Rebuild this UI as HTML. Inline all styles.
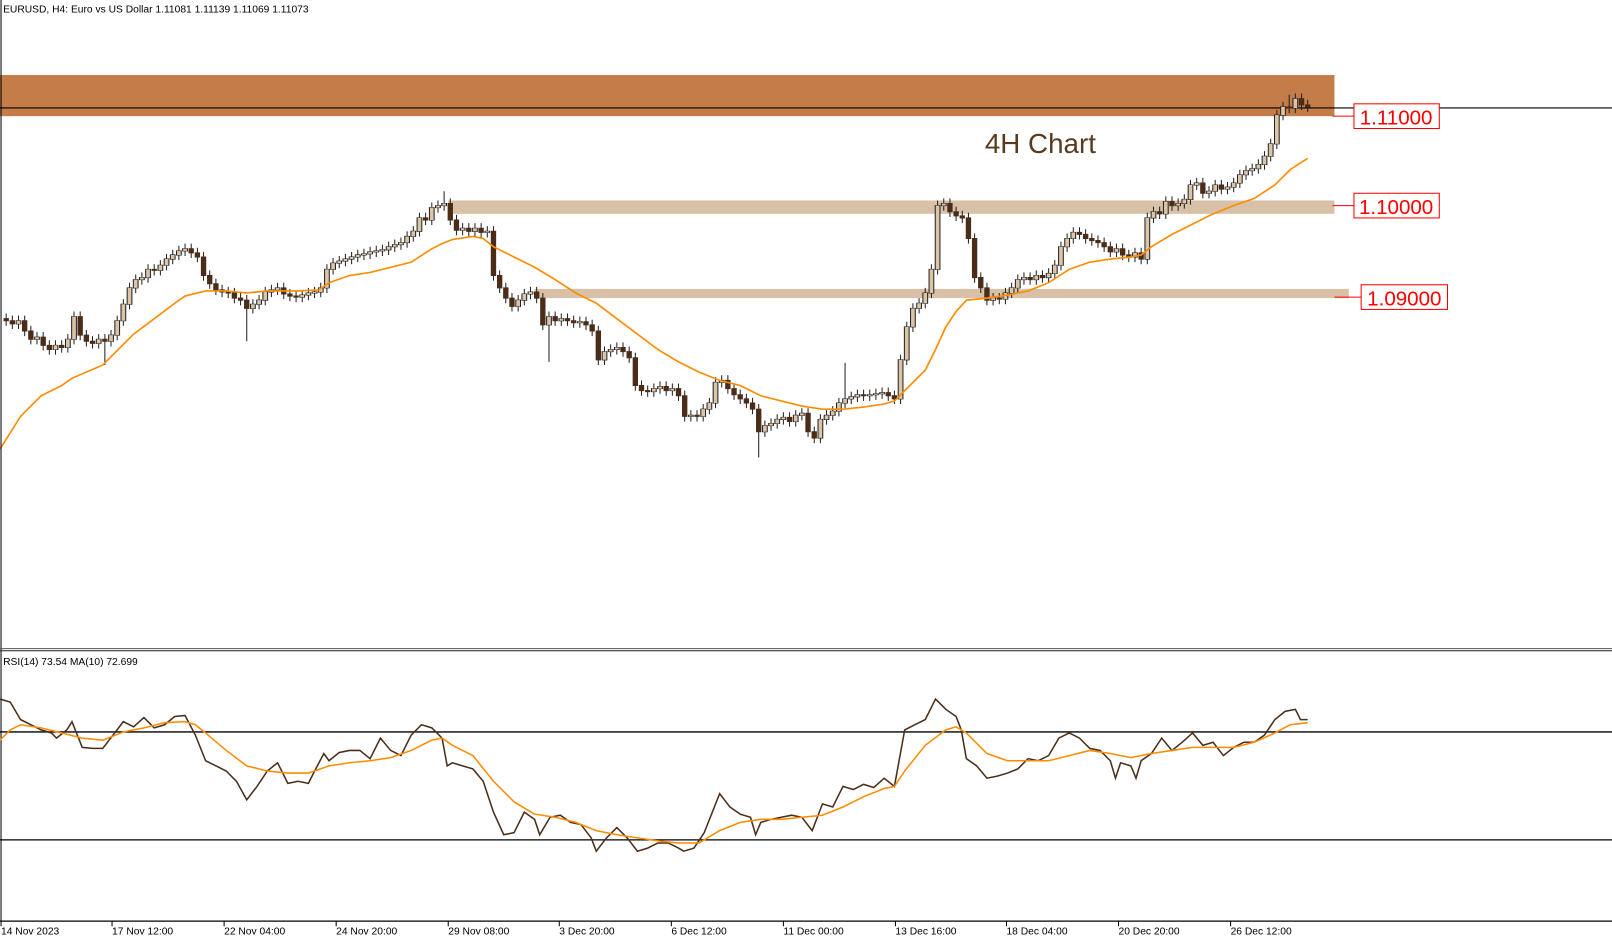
<!DOCTYPE html>
<html><head><meta charset="utf-8"><style>
html,body{margin:0;padding:0;background:#fff;overflow:hidden}
svg{display:block}
text{font-family:"Liberation Sans","DejaVu Sans",sans-serif}
</style></head><body>
<svg width="1612" height="936" viewBox="0 0 1568 910.5" preserveAspectRatio="none" xmlns="http://www.w3.org/2000/svg">
<rect x="0" y="0" width="1568" height="911" fill="#fff"/>
<rect x="0" y="73" width="1298" height="40" fill="#c47c48"/>
<rect x="436" y="195" width="862" height="13" fill="#d8c1a6"/>
<rect x="520" y="281" width="792" height="9" fill="#d8c1a6"/>
<line x1="0" y1="105" x2="1568" y2="105" stroke="#000" stroke-width="1"/>
<path fill="none" stroke="#222" stroke-width="1" d="M6 305V317M12 307V320M18 307V320M24 307V327M30 317V335M36 323V335M42 323V341M48 331V345M54 331V345M60 331V343M66 325V343M72 303V335M78 303V331M84 321V337M90 327V339M96 325V339M102 325V355M108 321V337M114 307V331M120 291V317M126 275V301M132 267V285M138 265V277M144 257V275M150 257V268M156 253V268M162 247V263M168 243V257M174 239V253M180 237V249M186 237V251M192 241V255M198 245V273M204 263V281M210 271V287M216 277V289M222 279V290M228 280V295M234 285V297M240 287V332M246 291V305M252 287V301M258 279V297M264 277V289M270 275V287M276 275V291M282 281V293M288 283V294M294 282V294M300 280V292M306 279V290M312 275V289M318 257V285M324 251V267M330 249V261M336 247V259M342 245V257M348 243V255M354 242V253M360 240V252M366 239V250M372 238V249M378 235V248M384 233V245M390 231V243M396 225V241M402 220V235M408 207V230M414 207V219M420 197V219M426 195V207M432 186V205M438 193V219M444 209V229M450 217V229M456 217V230M462 217V230M468 217V231M474 220V231M480 220V273M486 263V285M492 275V295M498 285V303M504 287V303M510 281V297M516 279V291M522 279V295M528 285V321M534 303V352M540 303V317M546 305V317M552 305V317M558 307V319M564 308V319M570 308V321M576 311V327M582 317V355M588 337V355M594 335V347M600 333V345M606 333V347M612 337V353M618 343V380M624 370V385M630 375V386M636 373V386M642 371V383M648 371V385M654 373V385M660 373V390M666 380V410M672 399V410M678 399V410M684 393V410M690 387V403M696 367V397M702 365V377M708 365V383M714 373V389M720 379V393M726 383V397M732 387V403M738 393V445M744 409V425M750 407V419M756 403V417M762 401V413M768 401V415M774 399V415M780 397V409M786 397V425M792 415V431M798 403V431M804 399V413M810 395V409M816 387V405M822 353V397M828 381V393M834 379V391M840 379V390M846 379V390M852 378V389M858 377V388M864 377V390M870 380V393M876 345V393M882 313V355M888 295V323M894 290V305M900 280V300M906 257V290M912 195V267M918 193V205M924 193V211M930 201V215M936 205V217M942 207V237M948 227V275M954 265V285M960 275V297M966 285V297M972 285V296M978 280V296M984 275V290M990 267V285M996 265V277M1002 265V277M1008 263V277M1014 263V275M1020 261V275M1026 253V271M1032 235V263M1038 227V245M1044 221V237M1050 221V233M1056 223V237M1062 227V239M1068 229V241M1074 231V245M1080 235V250M1086 237V250M1092 237V253M1098 243V255M1104 241V255M1110 241V257M1116 207V257M1122 201V217M1128 201V213M1134 191V213M1140 191V205M1146 193V205M1152 189V203M1158 175V199M1164 173V185M1170 173V193M1176 181V193M1182 175V191M1188 175V189M1194 177V189M1200 173V187M1206 165V183M1212 161V175M1218 159V171M1224 155V169M1230 147V165M1236 135V157M1242 107V145M1248 99V117M1254 92V110M1260 91V110M1266 91V107M1272 97V109"/>
<path id="lb" fill="none" stroke="#222" stroke-width="5.6" d="M18 311.5v4M36 327.5v3M54 335.5v5M66 329.5v9M72 307.5v23M96 329.5v5M108 325.5v7M114 311.5v15M120 295.5v17M126 279.5v17M132 271.5v9M138 269.5v3M144 261.5v9M156 257.5v6M162 251.5v7M168 247.5v5M174 243.5v5M180 241.5v3M246 295.5v5M252 291.5v5M258 283.5v9M264 281.5v3M270 279.5v3M294 286.5v3M300 284.5v3M306 283.5v2M312 279.5v5M318 261.5v19M324 255.5v7M330 253.5v3M336 251.5v3M342 249.5v3M348 247.5v3M354 246.5v2M360 244.5v3M366 243.5v2M372 242.5v2M378 239.5v4M384 237.5v3M390 235.5v3M396 229.5v7M402 224.5v6M408 211.5v14M420 201.5v13M426 199.5v3M432 197.5v3M450 221.5v3M462 221.5v4M474 224.5v2M504 291.5v7M510 285.5v7M516 283.5v3M534 307.5v9M546 309.5v3M564 312.5v2M588 341.5v9M594 339.5v3M600 337.5v3M636 377.5v4M642 375.5v3M654 377.5v3M672 403.5v2M684 397.5v8M690 391.5v7M696 371.5v21M702 369.5v3M744 413.5v7M750 411.5v3M756 407.5v5M762 405.5v3M774 403.5v7M780 401.5v3M798 407.5v19M804 403.5v5M810 399.5v5M816 391.5v9M822 387.5v5M828 385.5v3M834 383.5v3M846 383.5v2M852 382.5v2M858 381.5v2M876 349.5v39M882 317.5v33M888 299.5v19M894 294.5v6M900 284.5v11M906 261.5v24M912 199.5v63M918 197.5v3M966 289.5v3M978 284.5v7M984 279.5v6M990 271.5v9M996 269.5v3M1008 267.5v5M1020 265.5v5M1026 257.5v9M1032 239.5v19M1038 231.5v9M1044 225.5v7M1086 241.5v4M1104 245.5v5M1116 211.5v41M1122 205.5v7M1134 195.5v13M1146 197.5v3M1152 193.5v5M1158 179.5v15M1164 177.5v3M1176 185.5v3M1182 179.5v7M1194 181.5v3M1200 177.5v5M1206 169.5v9M1212 165.5v5M1218 163.5v3M1224 159.5v5M1230 151.5v9M1236 139.5v13M1242 111.5v29M1248 103.5v9M1260 95.5v10"/>
<path fill="none" stroke="#dcc4a6" stroke-width="3.6" d="M18 312v3M36 328v2M54 336v4M66 330v8M72 308v22M96 330v4M108 326v6M114 312v14M120 296v16M126 280v16M132 272v8M138 270v2M144 262v8M156 258v5M162 252v6M168 248v4M174 244v4M180 242v2M246 296v4M252 292v4M258 284v8M264 282v2M270 280v2M294 287v2M300 285v2M306 284v1M312 280v4M318 262v18M324 256v6M330 254v2M336 252v2M342 250v2M348 248v2M354 247v1M360 245v2M366 244v1M372 243v1M378 240v3M384 238v2M390 236v2M396 230v6M402 225v5M408 212v13M420 202v12M426 200v2M432 198v2M450 222v2M462 222v3M474 225v1M504 292v6M510 286v6M516 284v2M534 308v8M546 310v2M564 313v1M588 342v8M594 340v2M600 338v2M636 378v3M642 376v2M654 378v2M672 404v1M684 398v7M690 392v6M696 372v20M702 370v2M744 414v6M750 412v2M756 408v4M762 406v2M774 404v6M780 402v2M798 408v18M804 404v4M810 400v4M816 392v8M822 388v4M828 386v2M834 384v2M846 384v1M852 383v1M858 382v1M876 350v38M882 318v32M888 300v18M894 295v5M900 285v10M906 262v23M912 200v62M918 198v2M966 290v2M978 285v6M984 280v5M990 272v8M996 270v2M1008 268v4M1020 266v4M1026 258v8M1032 240v18M1038 232v8M1044 226v6M1086 242v3M1104 246v4M1116 212v40M1122 206v6M1134 196v12M1146 198v2M1152 194v4M1158 180v14M1164 178v2M1176 186v2M1182 180v6M1194 182v2M1200 178v4M1206 170v8M1212 166v4M1218 164v2M1224 160v4M1230 152v8M1236 140v12M1242 112v28M1248 104v8M1260 96v9"/>
<path fill="none" stroke="#4a2c18" stroke-width="5.2" d="M6 309.5v3M12 311.5v4M24 311.5v11M30 321.5v9M42 327.5v9M48 335.5v5M60 335.5v3M78 307.5v19M84 325.5v7M90 331.5v3M102 329.5v3M150 261.5v2M186 241.5v5M192 245.5v5M198 249.5v19M204 267.5v9M210 275.5v7M216 281.5v3M222 283.5v2M228 284.5v6M234 289.5v3M240 291.5v9M276 279.5v7M282 285.5v3M288 287.5v2M414 211.5v3M438 197.5v17M444 213.5v11M456 221.5v4M468 221.5v5M480 224.5v44M486 267.5v13M492 279.5v11M498 289.5v9M522 283.5v7M528 289.5v27M540 307.5v5M552 309.5v3M558 311.5v3M570 312.5v4M576 315.5v7M582 321.5v29M606 337.5v5M612 341.5v7M618 347.5v28M624 374.5v6M630 379.5v2M648 375.5v5M660 377.5v8M666 384.5v21M678 403.5v2M708 369.5v9M714 377.5v7M720 383.5v5M726 387.5v5M732 391.5v7M738 397.5v23M768 405.5v5M786 401.5v19M792 419.5v7M840 383.5v2M864 381.5v4M870 384.5v4M924 197.5v9M930 205.5v5M936 209.5v3M942 211.5v21M948 231.5v39M954 269.5v11M960 279.5v13M972 289.5v2M1002 269.5v3M1014 267.5v3M1050 225.5v3M1056 227.5v5M1062 231.5v3M1068 233.5v3M1074 235.5v5M1080 239.5v6M1092 241.5v7M1098 247.5v3M1110 245.5v7M1128 205.5v3M1140 195.5v5M1170 177.5v11M1188 179.5v5M1254 103.5v2M1266 95.5v7M1272 101.5v3"/>
<polyline fill="none" stroke="#ff8c00" stroke-width="1.6" points="0,437,20,405,40,385,60,375,70,368,100,355,110,345,130,325,150,310,170,295,180,288,200,283,220,283,240,285,260,283,290,283,310,282,320,275,340,268,360,265,380,260,400,255,420,242,430,237,440,233,460,230,470,232,480,240,500,250,520,260,540,272,560,285,580,295,600,310,620,325,640,340,660,352,680,362,700,370,720,375,740,385,760,390,780,395,800,398,820,398,840,396,860,393,870,390,880,380,900,360,910,340,920,318,930,303,940,292,960,290,980,287,1000,283,1020,275,1040,262,1060,255,1080,252,1100,250,1110,248,1120,240,1140,228,1160,218,1180,208,1200,200,1220,193,1240,180,1255,165,1272,154"/>
<line x1="1296" y1="113" x2="1317" y2="113" stroke="#f00"/>
<rect x="1317" y="101" width="83" height="24" fill="#fff" stroke="#f00"/>
<text x="1358" y="121" font-size="20" fill="#f00" text-anchor="middle">1.11000</text>
<line x1="1296" y1="200" x2="1317" y2="200" stroke="#f00"/>
<rect x="1317" y="188" width="83" height="24" fill="#fff" stroke="#f00"/>
<text x="1358" y="208" font-size="20" fill="#f00" text-anchor="middle">1.10000</text>
<line x1="1298" y1="289" x2="1324" y2="289" stroke="#f00"/>
<rect x="1324" y="277" width="84" height="24" fill="#fff" stroke="#f00"/>
<text x="1366" y="297" font-size="20" fill="#f00" text-anchor="middle">1.09000</text>
<text x="958" y="149" font-size="27" fill="#5a3a1e">4H Chart</text>
<text x="3" y="12" font-size="10" fill="#000">EURUSD, H4:  Euro vs US Dollar  1.11081 1.11139 1.11069 1.11073</text>
<line x1="1" y1="0" x2="1" y2="896" stroke="#000"/>
<line x1="0" y1="631" x2="1568" y2="631" stroke="#555" stroke-width="1"/>
<line x1="0" y1="633" x2="1568" y2="633" stroke="#222" stroke-width="1"/>
<text x="3" y="647" font-size="10" fill="#000">RSI(14) 73.54 MA(10) 72.699</text>
<line x1="0" y1="712" x2="1568" y2="712" stroke="#000" stroke-width="1.3"/>
<line x1="0" y1="817" x2="1568" y2="817" stroke="#000" stroke-width="1.3"/>
<polyline fill="none" stroke="#4a2e1a" stroke-width="1.5" points="0,680,10,683,20,700,30,705,40,710,50,713,55,718,65,710,70,702,80,727,90,728,100,728,110,715,120,702,130,707,140,698,150,708,160,705,170,697,180,696,190,715,200,740,210,745,220,750,230,760,240,778,250,765,260,750,270,742,280,762,290,760,300,762,305,752,315,733,320,740,330,732,340,730,350,730,360,738,370,718,380,730,390,735,400,715,410,705,420,708,430,718,435,745,440,742,450,745,460,748,470,760,480,790,490,812,500,810,510,790,520,797,525,812,535,795,545,793,555,800,565,802,575,815,580,828,590,815,600,805,610,815,620,828,630,825,640,820,650,820,660,825,665,828,675,825,685,810,700,772,710,785,720,792,730,795,735,812,740,800,750,797,760,795,770,793,780,795,790,808,800,782,810,785,820,765,830,768,840,763,850,766,860,757,870,765,880,710,890,705,900,700,910,680,920,690,930,697,935,710,940,738,950,745,960,757,970,755,980,752,990,748,1000,738,1010,740,1020,735,1030,718,1040,713,1050,718,1060,728,1070,730,1080,740,1085,757,1090,742,1100,745,1105,757,1110,740,1120,733,1130,718,1140,730,1150,722,1160,713,1170,725,1180,722,1190,735,1200,727,1210,722,1220,722,1230,715,1240,700,1250,692,1260,690,1265,700,1272,700"/>
<polyline fill="none" stroke="#ff8c00" stroke-width="1.5" points="0,720,10,710,20,705,40,708,60,713,80,718,100,720,120,712,140,708,160,703,180,702,190,705,200,713,220,730,240,745,260,750,280,752,300,752,320,745,340,742,360,740,380,737,400,730,420,720,430,718,440,725,460,735,480,760,500,780,520,792,540,795,560,800,580,808,600,812,620,815,640,818,660,820,680,820,700,808,720,800,740,797,760,797,780,795,800,793,820,785,840,775,860,767,870,765,880,750,900,725,920,710,930,707,940,713,960,733,980,740,1000,740,1020,740,1040,735,1060,730,1080,733,1100,737,1120,733,1140,730,1160,727,1180,727,1200,727,1220,722,1240,713,1255,705,1272,703"/>
<line x1="0" y1="896" x2="1568" y2="896" stroke="#000" stroke-width="1.2"/>
<g stroke="#000">
<line x1="1" y1="896" x2="1" y2="901"/><line x1="109" y1="896" x2="109" y2="901"/><line x1="218" y1="896" x2="218" y2="901"/><line x1="327" y1="896" x2="327" y2="901"/><line x1="436" y1="896" x2="436" y2="901"/><line x1="544" y1="896" x2="544" y2="901"/><line x1="653" y1="896" x2="653" y2="901"/><line x1="762" y1="896" x2="762" y2="901"/><line x1="871" y1="896" x2="871" y2="901"/><line x1="979" y1="896" x2="979" y2="901"/><line x1="1088" y1="896" x2="1088" y2="901"/><line x1="1197" y1="896" x2="1197" y2="901"/>
</g>
<g font-size="10" fill="#000">
<text x="1" y="909">14 Nov 2023</text>
<text x="109" y="909">17 Nov 12:00</text>
<text x="218" y="909">22 Nov 04:00</text>
<text x="327" y="909">24 Nov 20:00</text>
<text x="436" y="909">29 Nov 08:00</text>
<text x="544" y="909">3 Dec 20:00</text>
<text x="653" y="909">6 Dec 12:00</text>
<text x="762" y="909">11 Dec 00:00</text>
<text x="871" y="909">13 Dec 16:00</text>
<text x="979" y="909">18 Dec 04:00</text>
<text x="1088" y="909">20 Dec 20:00</text>
<text x="1197" y="909">26 Dec 12:00</text>
</g>
</svg>
</body></html>
